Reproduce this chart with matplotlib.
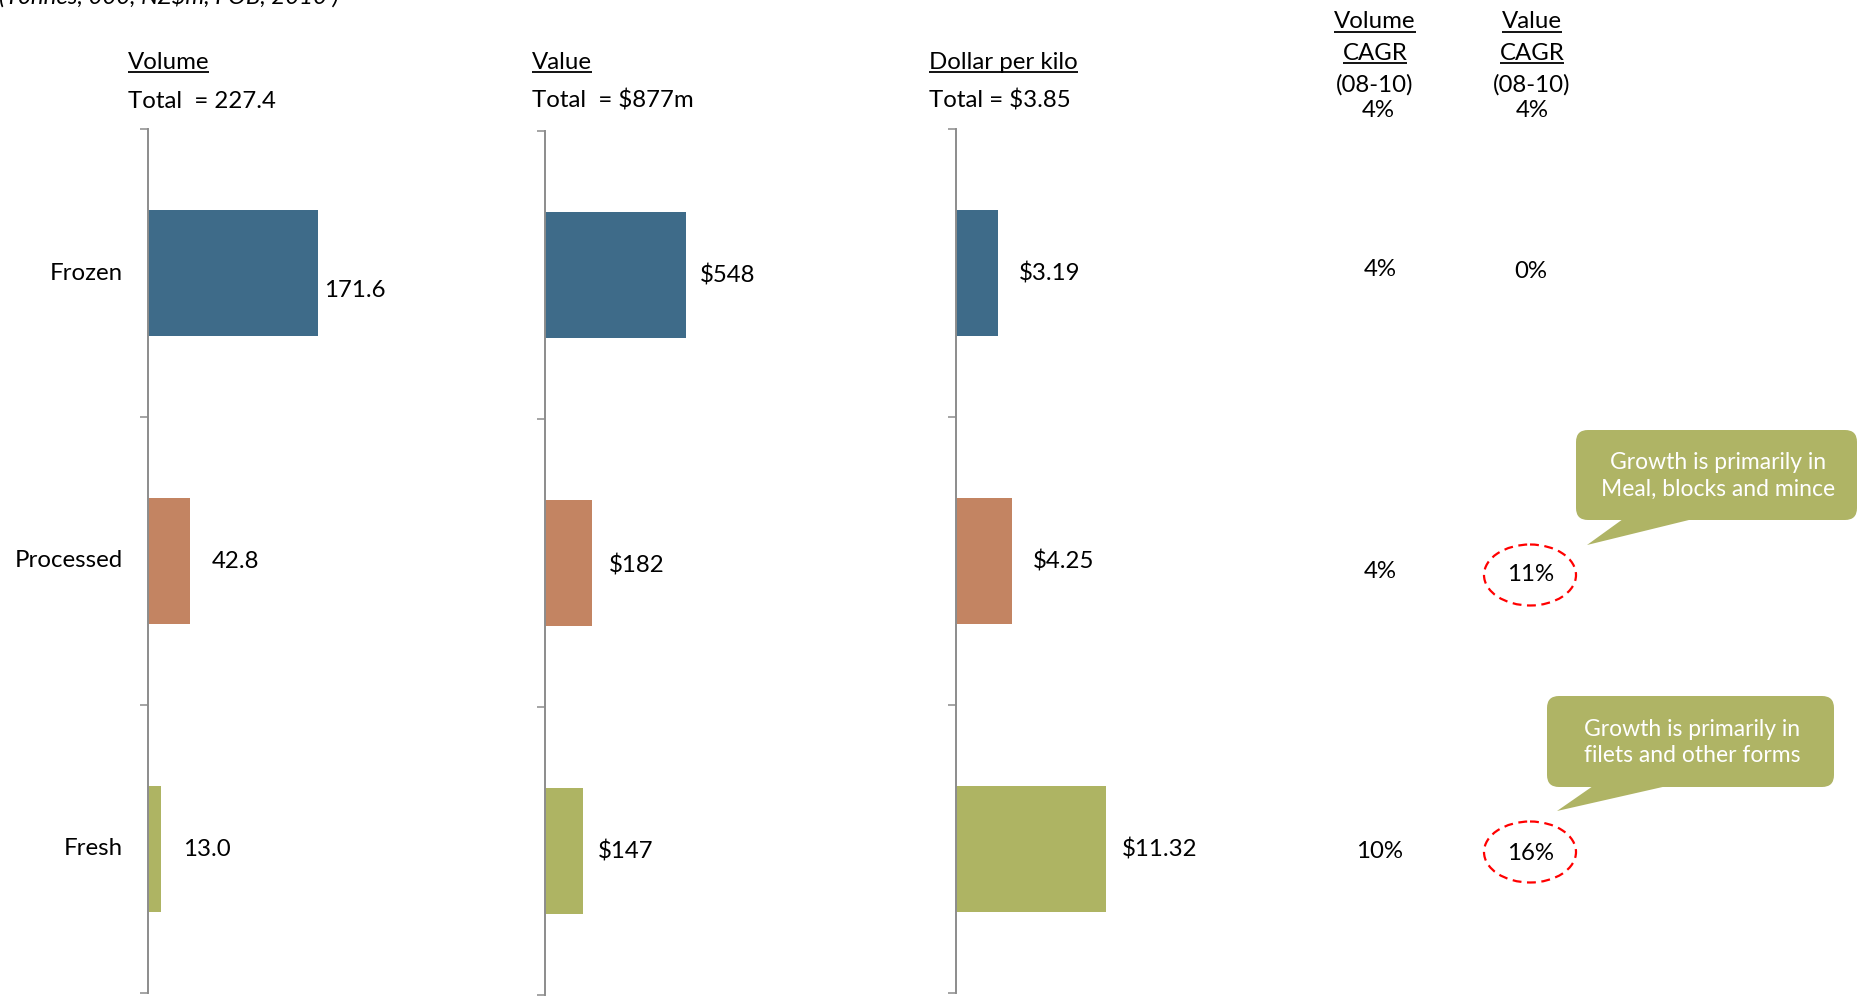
import matplotlib
matplotlib.use("Agg")
import matplotlib.pyplot as plt
from matplotlib.patches import FancyBboxPatch, Polygon, Ellipse

## Data
categories = ["Frozen", "Processed", "Fresh"]
volume = [171.6, 42.8, 13.0]
value = [548, 182, 147]
dollar_per_kilo = [3.19, 4.25, 11.32]
volume_labels = ["171.6", "42.8", "13.0"]
value_labels = ["$548", "$182", "$147"]
dollar_labels = ["$3.19", "$4.25", "$11.32"]
volume_cagr = ["4%", "4%", "10%"]
value_cagr = ["0%", "11%", "16%"]
total_volume_cagr = "4%"
total_value_cagr = "4%"
callouts = ["Growth is primarily in\nMeal, blocks and mince",
            "Growth is primarily in\nfilets and other forms"]

colors = ["#3E6B89", "#C38462", "#AEB463"]
axis_grey = "#8C8C8C"
callout_green = "#AFB465"

plt.rcParams["font.family"] = ["Lato", "DejaVu Sans"]
FS = 17.3

W, H = 1858, 997
fig = plt.figure(figsize=(W / 100, H / 100), dpi=100)

# overlay axes in pixel coordinates (y down)
ov = fig.add_axes([0, 0, 1, 1])
ov.set_xlim(0, W)
ov.set_ylim(H, 0)
ov.axis("off")
ov.patch.set_visible(False)
ov.set_zorder(5)


def bar_panel(left, top, bottom, px_per_unit, vals, labels, offsets):
    width = 420
    ax = fig.add_axes([left / W, 1 - bottom / H, width / W, (bottom - top) / H])
    ax.barh(range(len(vals)), vals, height=0.437, color=colors)
    ax.set_xlim(0, width / px_per_unit)
    ax.set_ylim(len(vals) - 0.5, -0.5)
    for s in ["top", "right", "bottom"]:
        ax.spines[s].set_visible(False)
    ax.spines["left"].set_color(axis_grey)
    ax.spines["left"].set_linewidth(1.4)
    ax.set_xticks([])
    ax.set_yticks([i - 0.5 for i in range(len(vals) + 1)])
    ax.set_yticklabels([])
    ax.tick_params(axis="y", direction="out", length=6, width=1.1, color=axis_grey)
    ax.patch.set_visible(False)
    for i, (v, lab) in enumerate(zip(vals, labels)):
        dx, dy = offsets[i]
        ax.annotate(lab, (v, i), xytext=(dx, -dy), textcoords="offset pixels",
                    ha="left", va="center", fontsize=FS, color="black")
    return ax


bar_panel(148, 129, 993, 170 / 171.6, volume, volume_labels, [(6, 17), (21, 0), (22, 0)])
bar_panel(545, 131, 995, 141 / 548, value, value_labels, [(14, 0), (17, 2), (15, 0)])
bar_panel(956, 129, 993, 150 / 11.32, dollar_per_kilo, dollar_labels, [(21, 0), (21, 0), (16, 0)])

# category labels
for cat, y in zip(categories, [273, 560, 848]):
    ov.text(123, y, cat, ha="right", va="center", fontsize=FS)

# cut-off unit text at top-left
ov.text(339, 4, "(Tonnes, 000, NZ$m, FOB, 2010 )", ha="right", va="baseline",
        fontsize=FS, style="italic")

underlined = []
for x, head, tot in [(128, "Volume", "Total  = 227.4"),
                     (532, "Value", "Total  = $877m"),
                     (929, "Dollar per kilo", "Total = $3.85")]:
    t = ov.text(x, 69, head, ha="left", va="baseline", fontsize=FS)
    underlined.append((t, 72))
    ov.text(x, 108, tot, ha="left", va="baseline", fontsize=FS)

# CAGR columns
for xc, head, tot in [(1375, "Volume", total_volume_cagr), (1532, "Value", total_value_cagr)]:
    t = ov.text(xc, 28, head, ha="center", va="baseline", fontsize=FS)
    underlined.append((t, 32))
    t = ov.text(xc, 60, "CAGR", ha="center", va="baseline", fontsize=FS)
    underlined.append((t, 63))
    ov.text(xc, 92, "(08-10)", ha="center", va="baseline", fontsize=FS)
    ov.text(xc + 3 if head == "Volume" else xc, 117, tot, ha="center", va="baseline", fontsize=FS)

for s, y in zip(volume_cagr, [269, 571, 851]):
    ov.text(1380, y, s, ha="center", va="center", fontsize=FS)
for s, y in zip(value_cagr, [271, 574, 853]):
    ov.text(1531, y, s, ha="center", va="center", fontsize=FS)

# dashed red circles
for y in [575, 852]:
    ov.add_patch(Ellipse((1530, y), 92, 61, fill=False, edgecolor="#FF0000",
                         linewidth=1.6, linestyle=(0, (4, 2.5))))

# callouts
boxes = [((1576, 430, 1857, 520), [(1623, 519), (1693, 519), (1587, 545)]),
         ((1547, 696, 1834, 787), [(1593, 786), (1667, 786), (1557, 811)])]
for (x0, y0, x1, y1), tri in boxes:
    ov.add_patch(FancyBboxPatch((x0 + 12, y0 + 12), x1 - x0 - 24, y1 - y0 - 24,
                                boxstyle="round,pad=12", facecolor=callout_green,
                                edgecolor="none"))
    ov.add_patch(Polygon(tri, closed=True, facecolor=callout_green, edgecolor="none"))
for ((x0, y0, x1, y1), _), txt in zip(boxes, callouts):
    ov.text((x0 + x1) / 2 + 2, (y0 + y1) / 2 + 1, txt, ha="center", va="center",
            fontsize=FS - 0.8, color="white", linespacing=1.35)

# underline the headers
fig.canvas.draw()
for t, yu in underlined:
    bb = t.get_window_extent()
    ov.plot([bb.x0, bb.x1], [yu, yu], color="black", linewidth=1.3,
            solid_capstyle="butt")

fig.savefig("out.png", dpi=100)
